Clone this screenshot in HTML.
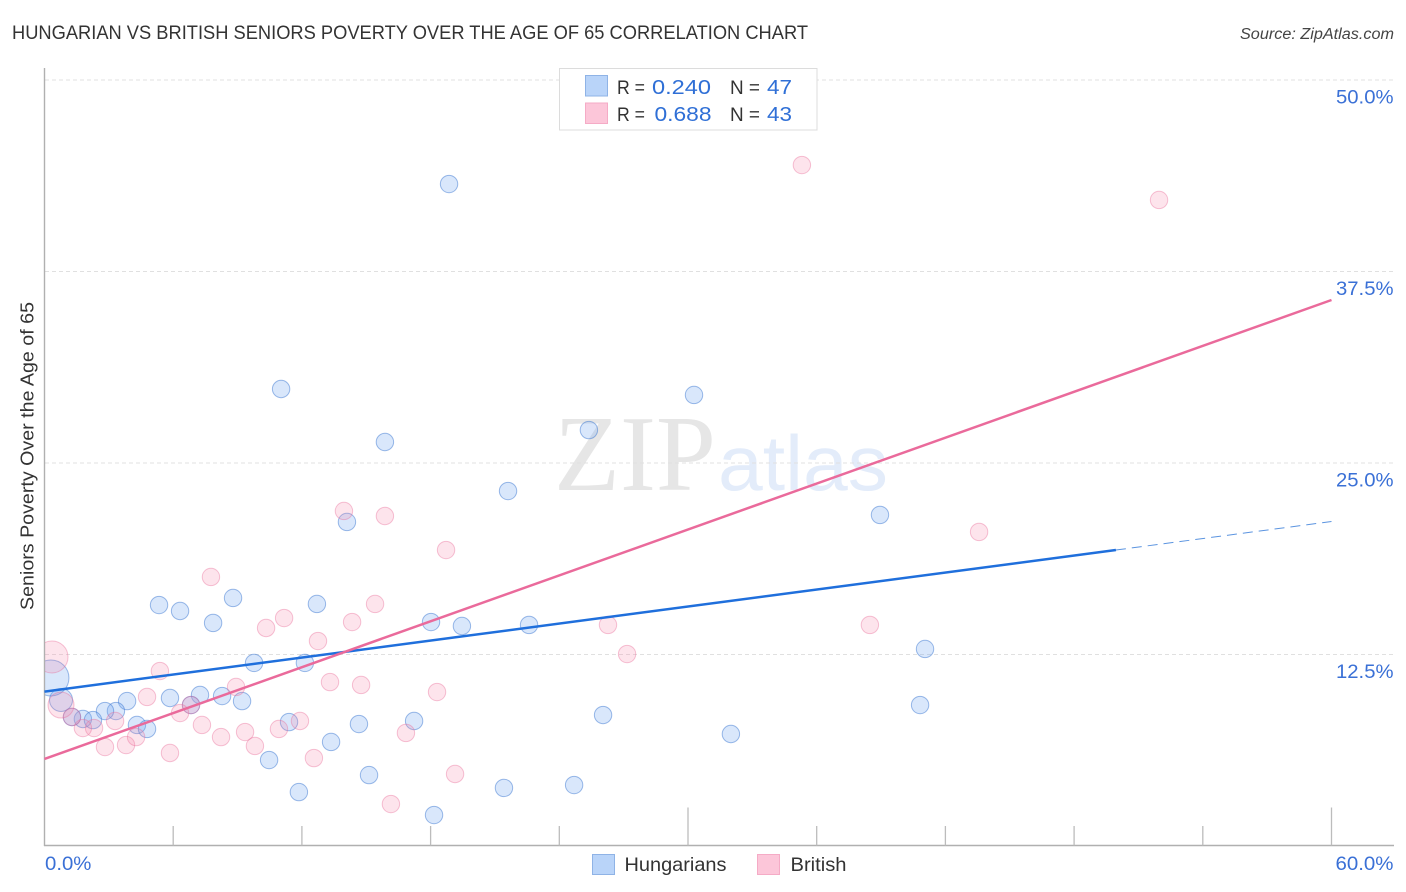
<!DOCTYPE html>
<html>
<head>
<meta charset="utf-8">
<title>Hungarian vs British Seniors Poverty Correlation Chart</title>
<style>
html,body{margin:0;padding:0;background:#fff;width:1406px;height:892px;overflow:hidden}
svg{display:block}
text{font-family:"Liberation Sans",sans-serif}
</style>
</head>
<body>
<svg id="chart" width="1406" height="892" viewBox="0 0 1406 892">
  <defs><clipPath id="plot-clip"><rect x="45" y="60" width="1349" height="785"/></clipPath></defs>
  <text x="12" y="39" font-size="19" fill="#333" textLength="796" lengthAdjust="spacingAndGlyphs">HUNGARIAN VS BRITISH SENIORS POVERTY OVER THE AGE OF 65 CORRELATION CHART</text>
  <text x="1394" y="39" font-size="15.5" font-style="italic" fill="#444" text-anchor="end" textLength="154" lengthAdjust="spacingAndGlyphs">Source: ZipAtlas.com</text>
  <text x="554" y="490" font-size="108" fill="#e6e6e6" textLength="162" lengthAdjust="spacingAndGlyphs" style="font-family:'Liberation Serif',serif">ZIP</text>
  <text x="718" y="490" font-size="78" fill="#e3ecfa" textLength="170" lengthAdjust="spacingAndGlyphs">atlas</text>
  <g id="grid"></g>
  <g id="axes"></g>
  <g id="points" clip-path="url(#plot-clip)"></g>
  <g id="trends"></g>
  <g id="labels"></g>
  <text transform="translate(33.5 610) rotate(-90)" font-size="18.5" fill="#333" textLength="308" lengthAdjust="spacingAndGlyphs">Seniors Poverty Over the Age of 65</text>

  <g>
    <rect x="559.5" y="68.5" width="257.5" height="61.5" fill="#fff" stroke="#dcdcdc"/>
    <rect x="585.5" y="75.5" width="22" height="20.5" fill="#b9d4f9" stroke="#8fb3e6"/>
    <rect x="585.5" y="103" width="22" height="20.5" fill="#fcc6d9" stroke="#f5abc6"/>
    <text x="617" y="94" font-size="19" fill="#333" textLength="28" lengthAdjust="spacingAndGlyphs">R =</text>
    <text x="652" y="94" font-size="20" fill="#2f6fd6" textLength="59" lengthAdjust="spacingAndGlyphs">0.240</text>
    <text x="730" y="94" font-size="19" fill="#333" textLength="30" lengthAdjust="spacingAndGlyphs">N =</text>
    <text x="767" y="94" font-size="20" fill="#2f6fd6" textLength="25" lengthAdjust="spacingAndGlyphs">47</text>
    <text x="617" y="121" font-size="19" fill="#333" textLength="28" lengthAdjust="spacingAndGlyphs">R =</text>
    <text x="654.5" y="121" font-size="20" fill="#2f6fd6" textLength="57" lengthAdjust="spacingAndGlyphs">0.688</text>
    <text x="730" y="121" font-size="19" fill="#333" textLength="30" lengthAdjust="spacingAndGlyphs">N =</text>
    <text x="767" y="121" font-size="20" fill="#2f6fd6" textLength="25" lengthAdjust="spacingAndGlyphs">43</text>
  </g>

  <g>
    <rect x="592.5" y="854.5" width="22" height="20" fill="#b9d4f9" stroke="#8fb3e6"/>
    <text x="624.5" y="871" font-size="19.5" fill="#333" textLength="102" lengthAdjust="spacingAndGlyphs">Hungarians</text>
    <rect x="757.5" y="854.5" width="22" height="20" fill="#fcc6d9" stroke="#f5abc6"/>
    <text x="790.5" y="871" font-size="19.5" fill="#333" textLength="56" lengthAdjust="spacingAndGlyphs">British</text>
  </g>
</svg>
<script>
const hungarianX = [18.86,11.03,30.28,25.38,15.87,21.61,38.95,14.10,5.34,6.32,8.79,7.86,12.70,18.02,19.46,22.59,41.05,9.77,12.14,40.82,3.85,5.85,7.25,8.28,9.21,6.83,3.33,2.82,4.31,4.78,1.79,1.28,2.26,0.77,0.30,11.40,14.66,17.23,26.04,32.00,13.36,10.47,15.13,11.86,21.42,24.69,18.16];
const hungarianY = [43.21,29.83,29.44,27.15,26.37,23.17,21.61,21.15,15.73,15.34,16.19,14.56,15.80,14.62,14.36,14.43,12.86,11.95,11.95,9.20,9.46,9.66,9.86,9.79,9.46,9.20,8.81,8.81,7.90,7.64,8.29,8.42,8.22,9.53,10.97,8.09,7.96,8.16,8.55,7.31,6.79,5.61,4.63,3.52,3.79,3.98,2.02];
const hungarianWeight = [1,1,1,1,1,1,1,1,1,1,1,1,1,1,1,1,1,1,1,1,1,1,1,1,1,1,1,1,1,1,1,1,1,1.75,4.28,1,1,1,1,1,1,1,1,1,1,1,1];

const britishX = [35.31,51.96,43.57,13.96,15.87,18.72,7.76,15.41,11.17,10.33,14.34,12.75,26.27,38.48,27.16,5.38,13.31,14.76,8.93,18.30,4.78,6.83,6.32,7.34,8.23,9.35,10.93,11.91,9.81,16.85,12.56,19.14,16.15,5.85,3.80,4.27,2.82,3.29,2.31,1.79,1.28,0.77,0.35];
const britishY = [44.45,42.17,20.50,21.87,21.54,19.32,17.56,15.80,14.88,14.23,14.62,13.38,14.43,14.43,12.53,11.42,10.70,10.51,10.38,10.05,9.73,9.20,8.68,7.90,7.11,7.44,7.64,8.16,6.53,7.38,5.74,4.70,2.74,6.07,6.59,7.11,6.46,8.16,7.70,7.70,8.42,9.20,12.34];
const britishWeight = [1,1,1,1,1,1,1,1,1,1,1,1,1,1,1,1,1,1,1,1,1,1,1,1,1,1,1,1,1,1,1,1,1,1,1,1,1,1,1,1,1,2.23,3.38];

const hungarianTrend = [10.08, 21.18];
const hungarianTrendSolidEnd = 49.95;
const britishTrend = [5.68, 35.64];
const trendDomain = [0, 60];

const xTickValues = [6,12,18,24,30,36,42,48,54,60];
const xMajorTicks = [30,60];
const xTickLabels = [[0,"0.0%"],[60,"60.0%"]];
const yTickValues = [12.5,25,37.5,50];
const yTickLabels = ["12.5%","25.0%","37.5%","50.0%"];

const NS = "http://www.w3.org/2000/svg";
function xScale(v){ return 44.5 + v * 21.45; }
function yScale(v){ return 846 - v * 15.32; }
function rScale(w){ return 8.7 * Math.sqrt(w); }
function make(parent, tag, attrs){
  const el = document.createElementNS(NS, tag);
  for (const k in attrs) el.setAttribute(k, attrs[k]);
  parent.appendChild(el);
  return el;
}
const grid = document.getElementById("grid");
const axes = document.getElementById("axes");
const points = document.getElementById("points");
const trends = document.getElementById("trends");
const labels = document.getElementById("labels");

yTickValues.forEach(function(v, i){
  const g = make(grid, "line", {x1:45, x2:1393, y1:yScale(v), y2:yScale(v), stroke:"#e0e0e0", "stroke-width":1, "stroke-dasharray":"4 3"});
  
  
  const t = make(labels, "text", {x:1393.5, y:yScale(v)+23.5, "font-size":19, fill:"#3a70d6", "text-anchor":"end", textLength:yTickLabels[i].length*11.5, lengthAdjust:"spacingAndGlyphs"});
  t.textContent = yTickLabels[i];
  
  
});

const yAxis = make(axes, "line", {x1:44.5, x2:44.5, y1:68, y2:846, stroke:"#b0b0b0", "stroke-width":1.4});


const xAxis = make(axes, "line", {x1:44, x2:1394, y1:845.5, y2:845.5, stroke:"#b0b0b0", "stroke-width":1.4});


xTickValues.forEach(function(v){
  const top = xMajorTicks.indexOf(v) >= 0 ? 807.5 : 826;
  const tk = make(axes, "line", {x1:xScale(v), x2:xScale(v), y1:top, y2:845.5, stroke:"#bcbcbc", "stroke-width":1.3});
  
  
});
xTickLabels.forEach(function(p){
  const atEnd = p[0] > 0;
  const t = make(labels, "text", {x:atEnd ? 1393.5 : 45, y:870, "font-size":19, fill:"#3a70d6", "text-anchor":atEnd ? "end" : "start", textLength:p[1].length*11.6, lengthAdjust:"spacingAndGlyphs"});
  t.textContent = p[1];
  
  
});

function drawSeries(xs, ys, ws, fill, stroke){
  xs.forEach(function(x, i){
    const c = make(points, "circle", {cx:xScale(x), cy:yScale(ys[i]), r:rScale(ws[i]), fill:fill, stroke:stroke, "stroke-width":1});
    
    
  });
}
drawSeries(hungarianX, hungarianY, hungarianWeight, "rgba(118,168,240,.28)", "rgba(60,120,210,.5)");
drawSeries(britishX, britishY, britishWeight, "rgba(245,130,170,.22)", "rgba(232,105,150,.4)");

function trendAt(tr, x){ return tr[0] + (tr[1]-tr[0]) * (x-trendDomain[0]) / (trendDomain[1]-trendDomain[0]); }

const bt = make(trends, "line", {x1:xScale(trendDomain[0]), y1:yScale(trendAt(hungarianTrend,trendDomain[0])), x2:xScale(hungarianTrendSolidEnd), y2:yScale(trendAt(hungarianTrend,hungarianTrendSolidEnd)), stroke:"#1f6fdc", "stroke-width":2.5});


const bd = make(trends, "line", {x1:xScale(hungarianTrendSolidEnd), y1:yScale(trendAt(hungarianTrend,hungarianTrendSolidEnd)), x2:xScale(trendDomain[1]), y2:yScale(trendAt(hungarianTrend,trendDomain[1])), stroke:"#5b94e0", "stroke-width":1, "stroke-dasharray":"10 6"});


const pt = make(trends, "line", {x1:xScale(trendDomain[0]), y1:yScale(trendAt(britishTrend,trendDomain[0])), x2:xScale(trendDomain[1]), y2:yScale(trendAt(britishTrend,trendDomain[1])), stroke:"#ea6a9b", "stroke-width":2.5});


</script>
</body>
</html>
